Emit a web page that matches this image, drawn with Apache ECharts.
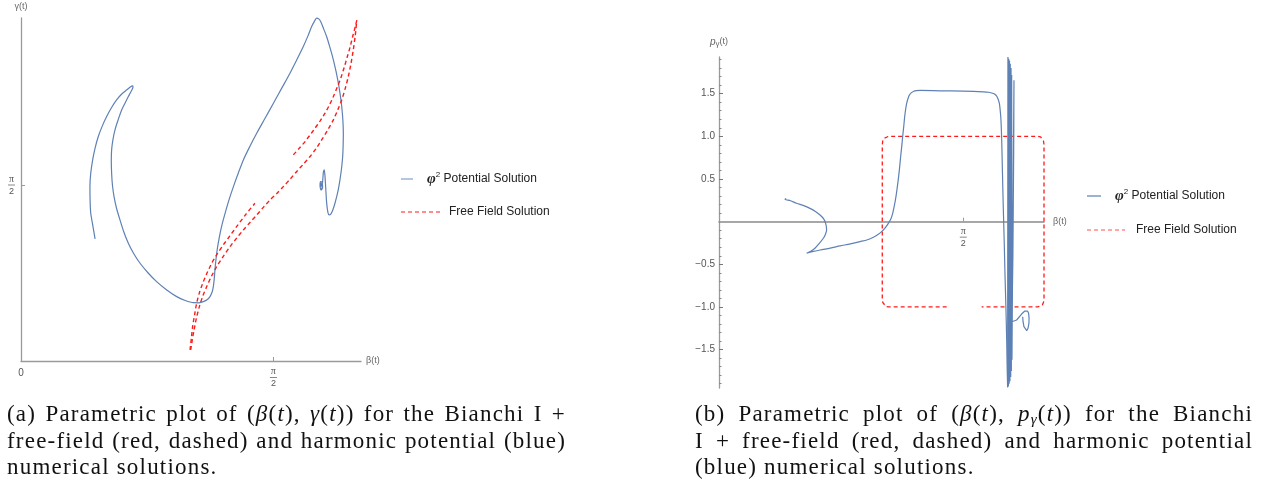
<!DOCTYPE html>
<html>
<head>
<meta charset="utf-8">
<script src="https://cdn.jsdelivr.net/npm/echarts@6/dist/echarts.min.js"></script>
<style>
  html, body { margin: 0; padding: 0; background: #fff; }
  #chart { position: absolute; left: 0; top: 0; width: 1266px; height: 494px; }
  .cap { position: absolute; font-family: 'Liberation Serif', 'Times New Roman', serif; font-size: 23px; color: #111; letter-spacing: 1.2px; }
  .ln { height: 26.5px; line-height: 26.5px; white-space: nowrap; }
  .j { text-align: justify; text-align-last: justify; }
  .cap i { font-style: italic; }
  .cap sub { font-size: 15px; line-height: 0; vertical-align: -3px; }
</style>
</head>
<body>
<div id="chart"></div>

<div class="cap" style="left:7px; top:401px; width:559px;">
  <div class="ln j">(a) Parametric plot of (<i>β</i>(<i>t</i>), <i>γ</i>(<i>t</i>)) for the Bianchi I +</div>
  <div class="ln j">free-field (red, dashed) and harmonic potential (blue)</div>
  <div class="ln">numerical solutions.</div>
</div>
<div class="cap" style="left:695px; top:401px; width:558px;">
  <div class="ln j">(b) Parametric plot of (<i>β</i>(<i>t</i>), <i>p</i><sub><i>γ</i></sub>(<i>t</i>)) for the Bianchi</div>
  <div class="ln j">I + free-field (red, dashed) and harmonic potential</div>
  <div class="ln">(blue) numerical solutions.</div>
</div>

<script>
// ---- axis ranges and tick positions ----
const HALF_PI = Math.PI / 2;
const BETA_MAX_A = 2.116, GAMMA_MAX = 3.07;
const BETA_MAX_B = 2.09, P_MIN = -1.95, P_MAX = 1.93;
const betaTicks = [HALF_PI];
const betaLabelsA = [0, HALF_PI];
const gammaTicks = [HALF_PI];
const pMajorTicks = [-1.5, -1.0, -0.5, 0.5, 1.0, 1.5];
const pMinorTicks = [-1.9, -1.8, -1.7, -1.6, -1.4, -1.3, -1.2, -1.1, -0.9, -0.8, -0.7, -0.6,
                     -0.4, -0.3, -0.2, -0.1, 0.1, 0.2, 0.3, 0.4, 0.6, 0.7, 0.8, 0.9,
                     1.1, 1.2, 1.3, 1.4, 1.6, 1.7, 1.8, 1.9];

// a gap in a dashed trajectory
const GAP = ['-', '-'];

// ---- (beta, gamma): phi^2 potential solution ----
const phiBetaGamma = [
  [0.461,1.093],[0.446,1.22],[0.434,1.322],[0.430,1.44],[0.429,1.561],[0.434,1.68],[0.446,1.800],
  [0.461,1.905],[0.481,2.009],[0.505,2.10],[0.533,2.188],[0.562,2.265],[0.595,2.337],[0.627,2.39],
  [0.658,2.427],[0.680,2.452],[0.693,2.463],[0.697,2.455],[0.695,2.442],[0.684,2.41],[0.668,2.367],
  [0.648,2.31],[0.627,2.248],[0.605,2.16],[0.585,2.069],[0.572,1.98],[0.564,1.890],[0.562,1.785],
  [0.564,1.681],[0.569,1.575],[0.579,1.472],[0.595,1.365],[0.616,1.263],[0.640,1.155],[0.668,1.054],
  [0.702,0.960],[0.741,0.875],[0.790,0.79],[0.844,0.710],[0.905,0.638],[0.969,0.576],[1.022,0.542],
  [1.073,0.522],[1.108,0.521],[1.135,0.531],[1.160,0.55],[1.176,0.576],[1.190,0.62],[1.197,0.666],
  [1.203,0.74],[1.207,0.815],[1.212,0.89],[1.218,0.964],[1.227,1.05],[1.239,1.143],[1.253,1.232],
  [1.270,1.322],[1.294,1.44],[1.322,1.561],[1.352,1.68],[1.384,1.800],[1.424,1.92],[1.467,2.039],
  [1.518,2.17],[1.571,2.307],[1.622,2.44],[1.674,2.576],[1.716,2.695],[1.757,2.815],[1.786,2.91],
  [1.809,2.994],[1.826,3.04],[1.840,3.069],[1.853,3.062],[1.865,3.039],[1.883,2.975],[1.902,2.904],
  [1.924,2.80],[1.944,2.696],[1.961,2.59],[1.975,2.487],[1.987,2.38],[1.996,2.278],[2.003,2.16],
  [2.006,2.039],[2.005,1.935],[2.002,1.830],[1.995,1.725],[1.985,1.621],[1.972,1.515],[1.954,1.412],
  [1.940,1.35],[1.928,1.315],[1.918,1.307],[1.910,1.33],[1.902,1.42],[1.896,1.56],[1.891,1.67],
  [1.887,1.710],[1.882,1.69],[1.879,1.64],[1.876,1.59],[1.872,1.575],[1.866,1.588],[1.862,1.565],
  [1.867,1.54],[1.875,1.555],[1.873,1.598],[1.864,1.605],[1.861,1.57],[1.868,1.53],[1.877,1.55],
  [1.874,1.59],[1.866,1.58],[1.869,1.56]
];

// ---- (beta, gamma): free field solution, two passes ----
const freeBetaGammaUp = [
  [1.056,0.099],[1.066,0.19],[1.077,0.278],[1.092,0.385],[1.110,0.487],[1.131,0.58],[1.156,0.666],
  [1.185,0.757],[1.218,0.845],[1.258,0.935],[1.301,1.024],[1.342,1.10],[1.384,1.173],[1.425,1.24],
  [1.467,1.307],[1.508,1.375],[1.550,1.442],[1.592,1.50],[1.633,1.561],[1.675,1.628],[1.716,1.696],
  [1.758,1.763],[1.799,1.830],[1.836,1.90],[1.871,1.979],[1.910,2.07],[1.944,2.158],[1.972,2.25],
  [1.996,2.337],[2.018,2.44],[2.037,2.546],[2.054,2.665],[2.068,2.785],[2.080,2.91],[2.089,3.039]
];
const freeBetaGammaDown = [
  [1.052,0.099],[1.060,0.20],[1.068,0.307],[1.080,0.41],[1.093,0.516],[1.110,0.61],[1.131,0.696],
  [1.157,0.785],[1.187,0.875],[1.222,0.96],[1.259,1.039],[1.300,1.12],[1.342,1.203],[1.398,1.31],
  [1.456,1.412], GAP,
  [1.695,1.845],[1.732,1.905],[1.768,1.964],[1.800,2.025],[1.830,2.084],[1.862,2.15],[1.892,2.218],
  [1.919,2.29],[1.944,2.367],[1.968,2.45],[1.990,2.531],[2.012,2.63],[2.031,2.725],[2.049,2.815],
  [2.064,2.904],[2.080,2.99],[2.093,3.069]
];

// ---- (beta, p_gamma): phi^2 potential solution ----
const phiBetaMomentum = [
  [0.432,0.272],[0.424,0.262],[0.46,0.245],[0.499,0.215],[0.545,0.188],[0.585,0.156],[0.620,0.12],
  [0.650,0.078],[0.672,0.035],[0.686,-0.020],[0.692,-0.098],[0.684,-0.150],[0.671,-0.195],[0.645,-0.255],
  [0.617,-0.312],[0.590,-0.348],[0.564,-0.371],[0.600,-0.352],[0.650,-0.332],[0.715,-0.31],[0.778,-0.285],
  [0.845,-0.26],[0.907,-0.234],[0.955,-0.212],[0.993,-0.183],[1.022,-0.152],[1.046,-0.117],[1.070,-0.07],
  [1.089,-0.020],[1.105,0.03],[1.117,0.098],[1.128,0.19],[1.138,0.293],[1.147,0.41],[1.155,0.527],
  [1.162,0.645],[1.168,0.761],[1.175,0.88],[1.181,0.995],[1.188,1.115],[1.194,1.229],[1.200,1.315],
  [1.207,1.386],[1.215,1.44],[1.224,1.483],[1.236,1.510],[1.250,1.526],[1.270,1.535],[1.293,1.538],
  [1.421,1.534],[1.571,1.530],[1.700,1.522],[1.735,1.517],[1.760,1.505],[1.776,1.49],[1.786,1.470],
  [1.795,1.435],[1.803,1.386],[1.808,1.31],[1.813,1.20],[1.818,0.954],[1.823,0.56],[1.828,0.174],
  [1.834,-0.22],[1.839,-0.607],[1.845,-1.0],[1.850,-1.388],[1.853,-1.70],[1.856,-1.94]
];
// fast oscillation phase and the closing loop
const phiBetaMomentumOsc = [
  [1.856,-1.94],[1.858,1.93],[1.861,-1.93],[1.863,1.91],[1.866,-1.90],[1.868,1.89],[1.871,-1.87],
  [1.873,1.85],[1.876,-1.82],[1.878,1.80],[1.880,-1.75],[1.882,1.72],[1.884,-1.62],[1.890,0.0],
  [1.897,1.657],[1.895,0.8],[1.890,-0.4],[1.886,-0.9],[1.884,-1.173],[1.914,-1.153],[1.946,-1.083],
  [1.965,-1.05],[1.974,-1.036],[1.985,-1.05],[1.991,-1.075],[1.994,-1.13],[1.993,-1.192],[1.987,-1.25],
  [1.979,-1.278],[1.968,-1.265],[1.961,-1.231],[1.955,-1.17],[1.953,-1.114]
];

// ---- (beta, p_gamma): free field solution ----
const freeBetaMomentum = [
  [1.050,-0.90],[1.050,0.90],[1.053,0.945],[1.060,0.975],[1.072,0.993],[1.090,1.0],[2.050,1.0],
  [2.068,0.993],[2.080,0.975],[2.087,0.945],[2.090,0.90],[2.090,-0.90],[2.087,-0.945],[2.080,-0.975],
  [2.068,-0.993],[2.050,-1.0],[1.689,-1.0], GAP,
  [1.464,-1.0],[1.090,-1.0],[1.072,-0.993],[1.060,-0.975],[1.053,-0.945],[1.050,-0.90]
];

// ---- styling ----
const BLUE = '#5E81B5';
const RED = '#ff1a1a';
const AXIS = '#9a9a9a';
const LABEL = '#555';
const GRID_A = { left: 21, top: 18, width: 340, height: 343 };
const GRID_B = { left: 719, top: 57, width: 325, height: 331 };

const fracRich = {
  pi:   { fontFamily: 'Liberation Serif', fontSize: 10, color: LABEL, lineHeight: 9, align: 'center' },
  bar:  { width: 7, height: 1, backgroundColor: '#888', lineHeight: 3, align: 'center' },
  two:  { fontFamily: 'Liberation Sans', fontSize: 9, color: LABEL, lineHeight: 10, align: 'center' },
  zero: { fontFamily: 'Liberation Sans', fontSize: 10, color: LABEL, lineHeight: 12, align: 'center' }
};
const piOverTwo = v => (v === 0 ? '{zero|0}' : '{pi|π}\n{bar|}\n{two|2}');
const nameStyle = { fontFamily: 'Liberation Sans', fontSize: 9, color: '#666' };

// the beta axis of the momentum plot runs through p = 0
const zeroOffsetB = -GRID_B.height * (0 - P_MIN) / (P_MAX - P_MIN);

const chart = echarts.init(document.getElementById('chart'));

const curve = (data, xi, yi, color, width, dashed, smooth) => ({
  type: 'line', xAxisIndex: xi, yAxisIndex: yi, data: data,
  showSymbol: false, symbol: 'none', smooth: smooth, clip: false, silent: true,
  connectNulls: false,
  lineStyle: { color: color, width: width, type: dashed ? [4, 3] : 'solid' }
});

chart.setOption({
  animation: false,
  grid: [GRID_A, GRID_B],
  xAxis: [
    {
      gridIndex: 0, type: 'value', min: 0, max: BETA_MAX_A,
      splitLine: { show: false },
      axisLine: { show: true, onZero: false, lineStyle: { color: AXIS, width: 1.3 } },
      axisTick: { show: true, inside: true, length: 4, customValues: betaTicks, lineStyle: { color: AXIS } },
      axisLabel: { customValues: betaLabelsA, margin: 6, formatter: piOverTwo, rich: fracRich, verticalAlign: 'top' },
      name: 'β(t)', nameLocation: 'end', nameGap: 5, nameTextStyle: nameStyle
    },
    {
      gridIndex: 1, type: 'value', min: 0, max: BETA_MAX_B, position: 'bottom', offset: zeroOffsetB,
      splitLine: { show: false },
      axisLine: { show: true, onZero: false, lineStyle: { color: '#8a8a8a', width: 1.5 } },
      axisTick: { show: true, inside: true, length: 4, customValues: betaTicks, lineStyle: { color: AXIS } },
      axisLabel: { customValues: betaTicks, margin: 5, formatter: piOverTwo, rich: fracRich, verticalAlign: 'top' },
      name: 'β(t)', nameLocation: 'end', nameGap: 9, nameTextStyle: nameStyle
    }
  ],
  yAxis: [
    {
      gridIndex: 0, type: 'value', min: 0, max: GAMMA_MAX, position: 'left',
      splitLine: { show: false },
      axisLine: { show: true, onZero: false, lineStyle: { color: AXIS, width: 1.3 } },
      axisTick: { show: true, inside: true, length: 4, customValues: gammaTicks, lineStyle: { color: AXIS } },
      axisLabel: { customValues: gammaTicks, margin: 6, formatter: piOverTwo, rich: fracRich },
      name: 'γ(t)', nameLocation: 'end', nameGap: 7, nameTextStyle: nameStyle
    },
    {
      gridIndex: 1, type: 'value', min: P_MIN, max: P_MAX, position: 'left',
      splitLine: { show: false },
      axisLine: { show: true, onZero: false, lineStyle: { color: AXIS, width: 1.3 } },
      axisTick: { show: true, inside: true, length: 4, customValues: pMajorTicks, lineStyle: { color: '#777' } },
      axisLabel: {
        customValues: pMajorTicks, margin: 4,
        fontFamily: 'Liberation Sans', fontSize: 10, color: LABEL,
        formatter: v => (v < 0 ? '\u2212' : '') + Math.abs(v).toFixed(1)
      },
      name: '{p|p}{s|γ}{n|(t)}', nameLocation: 'end', nameGap: 9,
      nameTextStyle: {
        rich: {
          p: { fontFamily: 'Liberation Sans', fontStyle: 'italic', fontSize: 10, color: '#666' },
          s: { fontFamily: 'Liberation Sans', fontSize: 8, color: '#666', padding: [4, 0, 0, 0] },
          n: { fontFamily: 'Liberation Sans', fontSize: 9, color: '#666' }
        }
      }
    },
    {
      gridIndex: 1, type: 'value', min: P_MIN, max: P_MAX, position: 'left',
      splitLine: { show: false },
      axisLine: { show: false, onZero: false },
      axisTick: { show: true, inside: true, length: 2.5, customValues: pMinorTicks, lineStyle: { color: '#888' } },
      axisLabel: { show: false }
    }
  ],
  series: [
    curve(phiBetaGamma, 0, 0, BLUE, 1.2, false, 0.3),
    curve(freeBetaGammaUp, 0, 0, RED, 1.4, true, 0.3),
    curve(freeBetaGammaDown, 0, 0, RED, 1.4, true, 0.3),
    curve(freeBetaMomentum, 1, 1, RED, 1.3, true, false),
    curve(phiBetaMomentum, 1, 1, BLUE, 1.2, false, 0.3),
    curve(phiBetaMomentumOsc, 1, 1, BLUE, 1.2, false, false)
  ],
  graphic: [
    // legend beside the (beta, gamma) plot
    { type: 'line', shape: { x1: 401, y1: 179, x2: 413, y2: 179 }, style: { stroke: '#9db3d6', lineWidth: 1.5 } },
    { type: 'text', x: 427, y: 179, style: {
        text: '{phi|φ}{sup|2}{t| Potential Solution}', verticalAlign: 'middle',
        rich: {
          phi: { fontFamily: 'Liberation Serif', fontStyle: 'italic', fontWeight: 'bold', fontSize: 15, fill: '#222' },
          sup: { fontFamily: 'Liberation Sans', fontSize: 8, fill: '#222', padding: [0, 0, 9, 0] },
          t: { fontFamily: 'Liberation Sans', fontSize: 12, fill: '#222' }
        } } },
    { type: 'line', shape: { x1: 401, y1: 212, x2: 440, y2: 212 }, style: { stroke: RED, lineWidth: 1.2, lineDash: [4, 3] } },
    { type: 'text', x: 449, y: 212, style: { text: 'Free Field Solution', verticalAlign: 'middle',
        fontFamily: 'Liberation Sans', fontSize: 12, fill: '#222' } },

    // legend beside the (beta, p_gamma) plot
    { type: 'line', shape: { x1: 1087, y1: 196, x2: 1101, y2: 196 }, style: { stroke: BLUE, lineWidth: 1.2 } },
    { type: 'text', x: 1115, y: 196, style: {
        text: '{phi|φ}{sup|2}{t| Potential Solution}', verticalAlign: 'middle',
        rich: {
          phi: { fontFamily: 'Liberation Serif', fontStyle: 'italic', fontWeight: 'bold', fontSize: 15, fill: '#222' },
          sup: { fontFamily: 'Liberation Sans', fontSize: 8, fill: '#222', padding: [0, 0, 9, 0] },
          t: { fontFamily: 'Liberation Sans', fontSize: 12, fill: '#222' }
        } } },
    { type: 'line', shape: { x1: 1087, y1: 230, x2: 1125, y2: 230 }, style: { stroke: '#ff5050', lineWidth: 1.2, lineDash: [4, 3] } },
    { type: 'text', x: 1136, y: 230, style: { text: 'Free Field Solution', verticalAlign: 'middle',
        fontFamily: 'Liberation Sans', fontSize: 12, fill: '#222' } }
  ]
});
</script>
</body>
</html>
